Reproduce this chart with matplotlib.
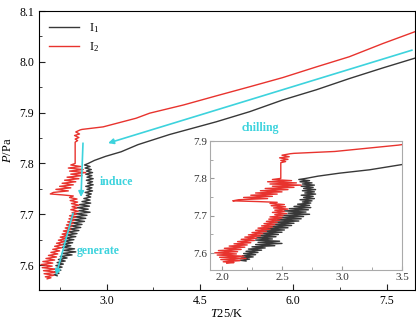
import matplotlib
matplotlib.use('Agg')
import matplotlib.pyplot as plt
from matplotlib.ticker import MultipleLocator

plt.rcParams['font.family'] = ['Liberation Serif', 'DejaVu Serif']
plt.rcParams['mathtext.fontset'] = 'custom'
plt.rcParams['mathtext.rm'] = 'Liberation Serif'
plt.rcParams['mathtext.it'] = 'Liberation Serif:italic'

# I1 (black): warm branch first, then the jagged low-temperature part
t1 = [7.95, 7.44, 6.90, 6.37, 5.83, 5.30, 4.76, 4.01, 3.50, 3.23, 2.98, 2.80,
      2.70, 2.64, 2.73, 2.65, 2.75, 2.67, 2.77, 2.66, 2.76, 2.68, 2.78, 2.67,
      2.77, 2.69, 2.78, 2.66, 2.76, 2.68, 2.77, 2.65, 2.75, 2.67, 2.74, 2.63,
      2.73, 2.60, 2.74, 2.56, 2.72, 2.52, 2.70, 2.55, 2.73, 2.50, 2.68, 2.48,
      2.66, 2.46, 2.64, 2.44, 2.60, 2.42, 2.58, 2.40, 2.55, 2.36, 2.52, 2.34,
      2.50, 2.32, 2.47, 2.30, 2.45, 2.29, 2.42, 2.28, 2.48, 2.30, 2.50, 2.28,
      2.44, 2.25, 2.36, 2.22, 2.33, 2.20, 2.30, 2.18, 2.28, 2.17, 2.26, 2.16,
      2.23, 2.15, 2.20]
p1 = [8.007, 7.988, 7.967, 7.945, 7.925, 7.902, 7.882, 7.857, 7.837, 7.823, 7.814, 7.806,
      7.800, 7.797, 7.794, 7.791, 7.788, 7.785, 7.782, 7.779, 7.776, 7.773, 7.770, 7.767,
      7.764, 7.761, 7.758, 7.755, 7.752, 7.749, 7.746, 7.743, 7.740, 7.737, 7.734, 7.731,
      7.728, 7.725, 7.722, 7.719, 7.716, 7.713, 7.710, 7.707, 7.704, 7.701, 7.698, 7.695,
      7.692, 7.689, 7.686, 7.683, 7.680, 7.677, 7.674, 7.671, 7.668, 7.665, 7.662, 7.659,
      7.656, 7.653, 7.650, 7.647, 7.644, 7.641, 7.638, 7.635, 7.632, 7.629, 7.626, 7.623,
      7.620, 7.617, 7.614, 7.611, 7.608, 7.605, 7.602, 7.599, 7.596, 7.593, 7.590, 7.587,
      7.584, 7.581, 7.579]

# I2 (red)
t2 = [7.95, 7.44, 6.90, 6.37, 5.83, 5.30, 4.76, 4.23, 3.69, 3.47, 2.94, 2.60,
      2.57, 2.50, 2.56, 2.48, 2.55, 2.49, 2.53, 2.49, 2.49,
      2.42, 2.58, 2.38, 2.62, 2.40, 2.66, 2.42, 2.60, 2.36, 2.55, 2.32, 2.50,
      2.28, 2.46, 2.24, 2.42, 2.18, 2.38, 2.14, 2.09, 2.30, 2.46,
      2.40, 2.52, 2.41, 2.53, 2.43, 2.55, 2.44, 2.52, 2.42, 2.54, 2.44, 2.51,
      2.40, 2.50, 2.39, 2.48, 2.37, 2.46, 2.35, 2.44, 2.33, 2.42, 2.30, 2.40,
      2.28, 2.37, 2.25, 2.34, 2.22, 2.32, 2.19, 2.29, 2.16, 2.27, 2.13, 2.24,
      2.10, 2.21, 2.06, 2.19, 2.02, 2.16, 1.97, 2.13, 1.94, 2.12, 1.96, 2.18,
      1.98, 2.20, 1.99, 2.15, 2.01, 2.10, 2.04]
p2 = [8.059, 8.036, 8.010, 7.990, 7.969, 7.951, 7.933, 7.915, 7.899, 7.889, 7.872, 7.867,
      7.866, 7.862, 7.858, 7.855, 7.851, 7.848, 7.845, 7.842, 7.800,
      7.797, 7.794, 7.791, 7.788, 7.785, 7.782, 7.779, 7.776, 7.773, 7.770, 7.767, 7.764,
      7.761, 7.758, 7.755, 7.752, 7.749, 7.746, 7.743, 7.740, 7.738, 7.736,
      7.733, 7.730, 7.727, 7.724, 7.721, 7.718, 7.715, 7.712, 7.709, 7.706, 7.703, 7.700,
      7.697, 7.694, 7.691, 7.688, 7.685, 7.682, 7.679, 7.676, 7.673, 7.670, 7.667, 7.664,
      7.661, 7.658, 7.655, 7.652, 7.649, 7.646, 7.643, 7.640, 7.637, 7.634, 7.631, 7.628,
      7.625, 7.622, 7.619, 7.616, 7.613, 7.610, 7.607, 7.604, 7.601, 7.598, 7.595, 7.592,
      7.589, 7.586, 7.583, 7.580, 7.577, 7.575, 7.573]

labels = [r'I$_1$', r'I$_2$']
colors = ['#383838', '#e8332e']
cyan = '#3dd3dd'

# (label, text position, arrow start, arrow end)
notes = [
    ('chilling', (5.47, 7.870), (7.91, 8.023), (3.02, 7.840)),
    ('induce', (3.15, 7.763), (2.616, 7.840), (2.584, 7.734)),
    ('generate', (2.86, 7.628), (2.456, 7.702), (2.183, 7.580)),
]

fig = plt.figure(figsize=(4.16, 3.22), dpi=100)
ax = fig.add_axes([0.094, 0.0994, 0.904, 0.8664])

for t, p, lab, c in zip([t1, t2], [p1, p2], labels, colors):
    ax.plot(t, p, color=c, lw=1.0, label=lab)

for txt, tpos, a0, a1 in notes:
    ax.annotate('', xy=a1, xytext=a0,
                arrowprops=dict(arrowstyle='-|>', color=cyan, lw=1.2,
                                mutation_scale=8, shrinkA=0, shrinkB=0))
    ax.text(tpos[0], tpos[1], txt, color=cyan, fontsize=8.5, fontweight='bold',
            ha='center', va='center')

ax.set_xlim(1.91, 7.96)
ax.set_ylim(7.551, 8.1)
ax.xaxis.set_major_locator(MultipleLocator(1.5))
ax.xaxis.set_minor_locator(MultipleLocator(0.75))
ax.yaxis.set_major_locator(MultipleLocator(0.1))
ax.yaxis.set_minor_locator(MultipleLocator(0.05))
ax.tick_params(which='both', direction='in', labelsize=8.5, color='#222222')
ax.tick_params(which='major', length=4)
ax.tick_params(which='minor', length=2.5)
ax.set_xlabel(r'$\mathit{T25}$/K', fontsize=9, labelpad=1)
ax.set_ylabel(r'$P$/Pa', fontsize=9, labelpad=4)
ax.legend(loc='upper left', frameon=False, fontsize=9, handlelength=2.4,
          borderaxespad=0.4, labelspacing=0.45)

# zoomed inset of the transition region
ins = fig.add_axes([0.5048, 0.1615, 0.4615, 0.4006])
for t, p, c in zip([t1, t2], [p1, p2], colors):
    ins.plot(t, p, color=c, lw=1.0)
ins.set_xlim(1.9, 3.5)
ins.set_ylim(7.555, 7.9)
ins.xaxis.set_major_locator(MultipleLocator(0.5))
ins.xaxis.set_minor_locator(MultipleLocator(0.25))
ins.yaxis.set_major_locator(MultipleLocator(0.1))
ins.yaxis.set_minor_locator(MultipleLocator(0.05))
ins.tick_params(which='both', direction='in', labelsize=8, color='#999999',
                labelcolor='#333333', pad=2)
ins.tick_params(which='major', length=3)
ins.tick_params(which='minor', length=2)
for s in ins.spines.values():
    s.set_color('#aaaaaa')

fig.savefig('out.png', dpi=100)
